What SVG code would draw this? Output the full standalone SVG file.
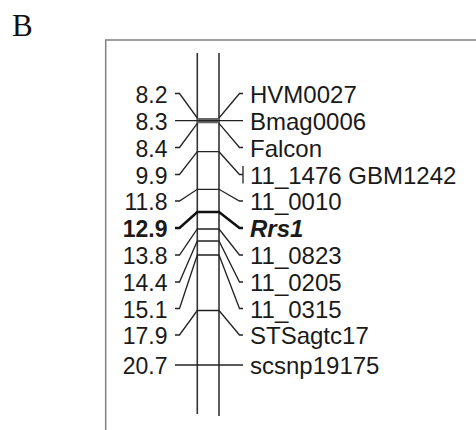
<svg xmlns="http://www.w3.org/2000/svg" width="476" height="430" viewBox="0 0 476 430">
<style>
.lbl{font-family:"Liberation Sans",Arial,sans-serif;font-size:24px;fill:#1a1a1a}
.l{text-anchor:end;font-size:23px}
.c{fill:none;stroke:#222;stroke-width:1.3}
.b{stroke-width:2.6;stroke:#111}
.chr{fill:none;stroke:#333;stroke-width:1.6}
.frame{fill:none;stroke:#808080;stroke-width:1.5}
</style>
<rect width="476" height="430" fill="#fff"/>
<text x="12" y="36" font-family="'Liberation Serif','Times New Roman',serif" font-size="31" fill="#111">B</text>
<path class="frame" d="M105.7,432 V40 H478"/>
<g id="chromosome">
<path class="chr" d="M197.3,53 V414 M219,53 V416"/>
<rect x="197.3" y="118" width="21.7" height="5.3" fill="#666"/>
</g>
<g id="connectors">
<path class="c" d="M175,93.5 H179.5 L197.3,118 M219,118 L239.5,93.5 H243"/>
<path class="c" d="M175,120.7 H243"/>
<path class="c" d="M175,147.5 H179.5 L197.3,123.3 M219,123.3 L239.5,147.5 H243"/>
<path class="c" d="M175,174.5 H179.5 L197.3,151.7 H219 L239.5,174.5 H243 M243,166 V183.5"/>
<path class="c" d="M175,201 H179.5 L197.3,189.3 H219 L239.5,201 H243"/>
<path class="c b" d="M175,228 H179.5 L197.3,212 H219 L239.5,228 H243"/>
<path class="c" d="M175,255 H179.5 L197.3,229 H219 L239.5,255 H243"/>
<path class="c" d="M175,282 H179.5 L197.3,241 H219 L239.5,282 H243"/>
<path class="c" d="M175,308.5 H179.5 L197.3,255 H219 L239.5,308.5 H243"/>
<path class="c" d="M175,335 H179.5 L197.3,310.5 H219 L239.5,335 H243"/>
<path class="c" d="M175,365 H243"/>
</g>
<g id="pos-8.2"><text class="lbl l" x="167.5" y="102.5">8.2</text></g>
<g id="pos-8.3"><text class="lbl l" x="167.5" y="129.5">8.3</text></g>
<g id="pos-8.4"><text class="lbl l" x="167.5" y="156.5">8.4</text></g>
<g id="pos-9.9"><text class="lbl l" x="167.5" y="183.5">9.9</text></g>
<g id="pos-11.8"><text class="lbl l" x="167.5" y="210">11.8</text></g>
<g id="pos-12.9"><text class="lbl l" x="167.5" y="237" font-weight="bold">12.9</text></g>
<g id="pos-13.8"><text class="lbl l" x="167.5" y="264">13.8</text></g>
<g id="pos-14.4"><text class="lbl l" x="167.5" y="291">14.4</text></g>
<g id="pos-15.1"><text class="lbl l" x="167.5" y="317.5">15.1</text></g>
<g id="pos-17.9"><text class="lbl l" x="167.5" y="344">17.9</text></g>
<g id="pos-20.7"><text class="lbl l" x="167.5" y="373.5">20.7</text></g>
<g id="m-HVM0027"><text class="lbl" x="250" y="102.5">HVM0027</text></g>
<g id="m-Bmag0006"><text class="lbl" x="250" y="129.5">Bmag0006</text></g>
<g id="m-Falcon"><text class="lbl" x="250" y="156.5">Falcon</text></g>
<g id="m-11_1476"><text class="lbl" x="250" y="183.5">11_1476 GBM1242</text></g>
<g id="m-11_0010"><text class="lbl" x="250" y="210">11_0010</text></g>
<g id="m-Rrs1"><text class="lbl" x="250" y="237" font-weight="bold" font-style="italic">Rrs1</text></g>
<g id="m-11_0823"><text class="lbl" x="250" y="264">11_0823</text></g>
<g id="m-11_0205"><text class="lbl" x="250" y="291">11_0205</text></g>
<g id="m-11_0315"><text class="lbl" x="250" y="317.5">11_0315</text></g>
<g id="m-STSagtc17"><text class="lbl" x="250" y="344">STSagtc17</text></g>
<g id="m-scsnp19175"><text class="lbl" x="250" y="373.5">scsnp19175</text></g>
</svg>
